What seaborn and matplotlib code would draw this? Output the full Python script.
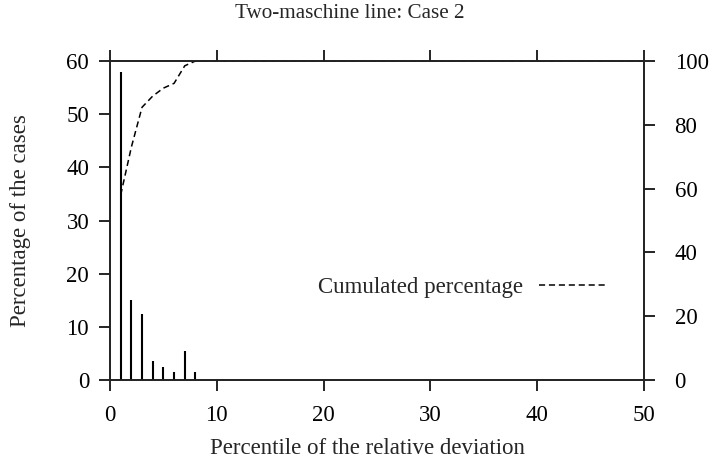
import numpy as np
import matplotlib
matplotlib.use("Agg")
import matplotlib.pyplot as plt
import seaborn as sns

# percentile of relative deviation and share of cases
percentile = [1, 2, 3, 4, 5, 6, 7, 8]
cases_pct = [58, 15, 12.5, 3.5, 2.5, 1.5, 5.5, 1.5]

# cumulated percentage (right axis)
cum_x = [1, 2, 3, 4, 5, 6, 7, 8, 50]
cum_pct = [58, 73, 85.5, 89, 91.5, 93, 98.5, 100, 100]

sns.set_style("ticks")
plt.rcParams['font.family'] = ['Liberation Serif', 'DejaVu Serif']
plt.rcParams['font.size'] = 16.5
plt.rcParams['axes.linewidth'] = 1.2
plt.rcParams['xtick.major.width'] = 1.2
plt.rcParams['ytick.major.width'] = 1.2
plt.rcParams['xtick.major.size'] = 8
plt.rcParams['ytick.major.size'] = 8

fig = plt.figure(figsize=(7.12, 4.63), dpi=100)
ax = fig.add_axes([110 / 712, 1 - 380 / 463, 534 / 712, 319 / 463])

ax.vlines(percentile, 0, cases_pct, color='black', lw=1.5)
ax.set_xlim(0, 50)
ax.set_ylim(0, 60)
ax.set_xticks(range(0, 51, 10))
ax.set_yticks(range(0, 61, 10))
ax.tick_params(axis='x', top=True, direction='out', colors='black', labelsize=16.5, pad=10)
ax.tick_params(axis='y', direction='out', colors='black', labelsize=16.5, pad=7)
ax.set_xlabel('Percentile of the relative deviation', fontsize=16.5)
ax.set_ylabel('Percentage of the cases', fontsize=16.5)
ax.xaxis.set_label_coords(0.483, -0.216)
ax.yaxis.set_label_coords(-0.168, 0.5)
ax.xaxis.label.set_va('center')
ax.yaxis.label.set_va('center')
fig.text(350 / 712, 1 - 14 / 463, 'Two-maschine line: Case 2', fontsize=15.2,
         ha='center', va='center')
for s in ax.spines.values():
    s.set_visible(True)
    s.set_color('black')

ax2 = ax.twinx()
sns.lineplot(x=cum_x, y=cum_pct, ax=ax2, color='black', lw=1.1,
             dashes=False, label='Cumulated percentage')
ax2.lines[0].set_dashes((4, 2.5))
ax2.set_ylim(0, 100)
ax2.set_yticks(range(0, 101, 20))
ax2.tick_params(axis='y', direction='out', colors='black', labelsize=16.5, pad=14)
ax2.set_ylabel('')
ax2.legend(loc='center right', bbox_to_anchor=(0.9287, 0.2915), frameon=False,
           markerfirst=False, handlelength=2.9, borderpad=0, borderaxespad=0,
           handletextpad=0.7, fontsize=16.5)

fig.savefig('out.png', dpi=100)
